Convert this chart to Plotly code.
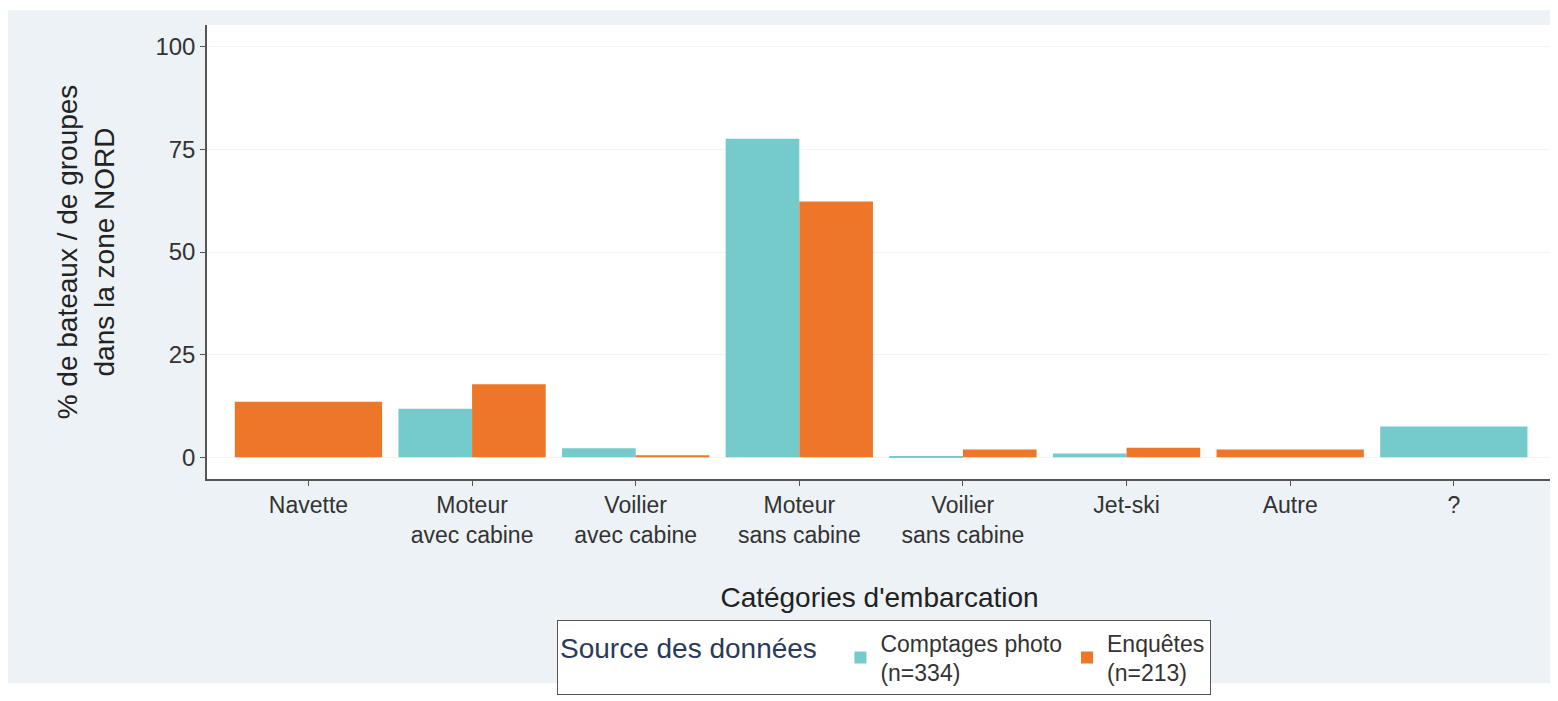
import plotly.graph_objects as go

categories = ["Navette", "Moteur<br>avec cabine", "Voilier<br>avec cabine", "Moteur<br>sans cabine",
              "Voilier<br>sans cabine", "Jet-ski", "Autre", "?"]
photo_values = [None, 11.8, 2.2, 77.6, 0.2, 0.9, None, 7.5]
enquete_values = [13.5, 17.8, 0.5, 62.3, 1.9, 2.3, 1.9, None]
series_names = ["Comptages photo<br>(n=334)", "Enquêtes<br>(n=213)"]
colors = ["#75CACB", "#EE7628"]
y_ticks = [0, 25, 50, 75, 100]

GROUP_W = 0.9


def positions(vals, other, side):
    xs, ws = [], []
    for i, (v, o) in enumerate(zip(vals, other)):
        if v is None:
            xs.append(i)
            ws.append(0)
        elif o is None:
            xs.append(i)
            ws.append(GROUP_W)
        else:
            xs.append(i + side * GROUP_W / 4)
            ws.append(GROUP_W / 2)
    return xs, ws


fig = go.Figure()
for vals, other, side, name, col in [
    (photo_values, enquete_values, -1, series_names[0], colors[0]),
    (enquete_values, photo_values, 1, series_names[1], colors[1]),
]:
    xs, ws = positions(vals, other, side)
    fig.add_trace(go.Bar(x=xs, y=vals, width=ws, name=name,
                         marker=dict(color=col, line=dict(width=0))))

W, H = 1550, 693
L, R, T, B = 199, 6, 17, 216
pw, ph = W - L - R, H - T - B

fig.update_layout(
    width=W, height=H,
    margin=dict(l=L, r=R, t=T, b=B),
    barmode="overlay",
    paper_bgcolor="white",
    plot_bgcolor="rgba(0,0,0,0)",
    font=dict(family="Liberation Sans, Arial, sans-serif", color="#333333", size=23),
    shapes=[
        dict(type="rect", xref="paper", yref="paper", layer="below",
             x0=(0 - L) / pw, x1=(W - L) / pw, y0=(T + ph - 684) / ph, y1=(T + ph - 2) / ph,
             fillcolor="#ECF2F5", line=dict(width=0)),
        dict(type="rect", xref="paper", yref="paper", layer="below",
             x0=0, x1=1, y0=0, y1=1, fillcolor="white", line=dict(width=0)),
    ],
    legend=dict(
        orientation="h", x=(884 - 8 - L) / pw, xanchor="center", y=(T + ph - 620) / ph, yanchor="top",
        bgcolor="white", bordercolor="#555555", borderwidth=1,
        title=dict(text="Source des données  ", font=dict(size=28, color="#2B3A5A"), side="left"),
        font=dict(size=23, color="#333333"),
        itemwidth=30,
    ),
)
fig.update_xaxes(
    range=[-0.62, 7.6], tickmode="array", tickvals=list(range(len(categories))), ticktext=categories,
    showgrid=False, zeroline=False, showline=True, linecolor="#555555", linewidth=1.5,
    ticks="outside", ticklen=5, tickcolor="#555555",
    title=dict(text="Catégories d'embarcation", font=dict(size=28, color="#222222"), standoff=40),
    tickfont=dict(size=23, color="#333333"),
)
fig.update_yaxes(
    range=[-5.3, 105.3], tickvals=y_ticks,
    showgrid=True, gridcolor="#F1F3F5", gridwidth=1, zeroline=False,
    showline=True, linecolor="#555555", linewidth=1.5,
    ticks="outside", ticklen=5, tickcolor="#555555",
    title=dict(text="% de bateaux / de groupes<br>dans la zone NORD", font=dict(size=28, color="#222222"), standoff=33),
    tickfont=dict(size=24, color="#333333"),
)

fig.write_html("out.html")
